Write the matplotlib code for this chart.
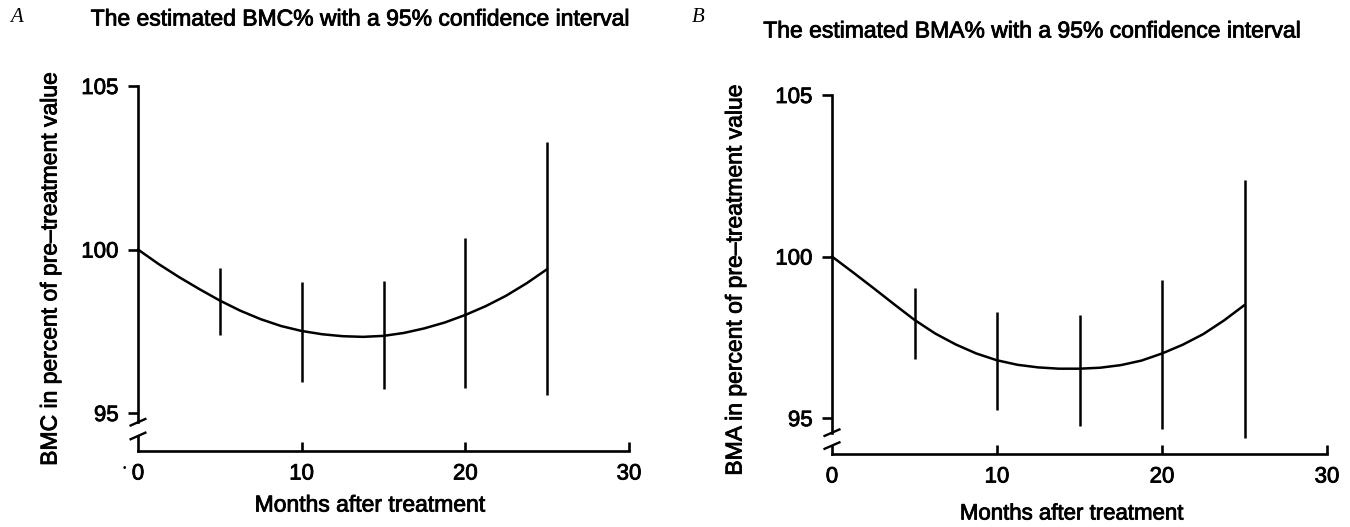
import matplotlib
matplotlib.use("Agg")
import matplotlib.pyplot as plt
import matplotlib.patheffects as pe

plt.rcParams['font.family'] = ['Liberation Sans', 'DejaVu Sans']

# months at which the fitted curves and the confidence intervals are read
months_curve = [0, 1.25, 2.5, 3.75, 5, 6.25, 7.5, 8.75, 10, 11.25, 12.5,
                13.75, 15, 16.25, 17.5, 18.75, 20, 21.25, 22.5, 23.75, 25]
months_ci = [5, 10, 15, 20, 25]

# panel A: BMC %
bmc_curve = [100.0, 99.56, 99.16, 98.79, 98.44, 98.13, 97.87, 97.66, 97.51,
             97.41, 97.35, 97.33, 97.36, 97.45, 97.59, 97.77, 98.0, 98.27,
             98.59, 98.97, 99.4]
bmc_lo = [97.4, 95.95, 95.75, 95.78, 95.54]
bmc_hi = [99.43, 99.0, 99.03, 100.35, 103.28]

# panel B: BMA %
bma_curve = [100.0, 99.52, 99.03, 98.53, 98.04, 97.62, 97.28, 97.0, 96.79,
             96.65, 96.57, 96.53, 96.53, 96.56, 96.64, 96.78, 97.0, 97.27,
             97.6, 98.02, 98.5]
bma_lo = [96.84, 95.26, 94.77, 94.65, 94.40]
bma_hi = [99.02, 98.27, 98.18, 99.26, 102.38]

yticks = [95, 100, 105]
xticks = [0, 10, 20, 30]

W, H = 1350, 527
fig = plt.figure(figsize=(13.5, 5.27), dpi=100)
bold = [pe.withStroke(linewidth=0.6, foreground='black')]


def panel(rect, curve, lo, hi, ymin, brk_hi, brk_lo):
    ax = fig.add_axes(rect)
    ax.set_xlim(0, 30)
    ax.set_ylim(ymin, 105)
    ax.plot(months_curve, curve, color='black', lw=1.8, clip_on=False,
            solid_capstyle='round', solid_joinstyle='round')
    ax.vlines(months_ci, lo, hi, color='black', lw=1.8, clip_on=False)

    for s in ['top', 'right']:
        ax.spines[s].set_visible(False)
    ax.spines['left'].set_linewidth(1.9)
    ax.spines['bottom'].set_linewidth(1.9)
    ax.spines['left'].set_bounds(brk_hi, 105)
    ax.spines['bottom'].set_bounds(0, 30)
    # lower piece of the broken y axis and the two break strokes
    ax.plot([0, 0], [ymin, brk_lo], color='black', lw=1.9, clip_on=False)
    for yb in [brk_lo, brk_hi]:
        ax.plot([-0.45, 0.45], [yb - 0.1, yb + 0.1], color='black', lw=1.7,
                clip_on=False)

    ax.set_yticks(yticks)
    ax.set_yticklabels([str(v) for v in yticks], fontsize=16, path_effects=bold)
    ax.tick_params(axis='y', direction='out', length=7, width=1.9, pad=7)
    ax.set_xticks(xticks)
    ax.set_xticklabels([str(v) for v in xticks], fontsize=16, path_effects=bold)
    ax.tick_params(axis='x', direction='in', length=6.5, width=1.9, pad=9)
    ax.xaxis.get_major_ticks()[0].tick1line.set_visible(False)
    return ax


axA = panel([138 / W, 1 - 451 / H, 491 / W, 365 / H], bmc_curve, bmc_lo, bmc_hi,
            93.84, 94.72, 94.3)
axB = panel([832 / W, 1 - 454 / H, 495 / W, 359 / H], bma_curve, bma_lo, bma_hi,
            93.89, 94.55, 94.15)

fig.text(10 / W, 1 - 18 / H, 'A', family='Liberation Serif', style='italic',
         fontsize=15, va='center', ha='left')
fig.text(692 / W, 1 - 18 / H, 'B', family='Liberation Serif', style='italic',
         fontsize=15, va='center', ha='left')
fig.text(360 / W, 1 - 19 / H, 'The estimated BMC% with a 95% confidence interval',
         fontsize=16.5, ha='center', va='center', path_effects=bold)
fig.text(1032 / W, 1 - 31 / H, 'The estimated BMA% with a 95% confidence interval',
         fontsize=16.5, ha='center', va='center', path_effects=bold)

fig.text(50 / W, 1 - 269 / H, 'BMC in percent of pre\u2013treatment value',
         fontsize=16.5, rotation=90, ha='center', va='center', path_effects=bold)
fig.text(735 / W, 1 - 280 / H, 'BMA in percent of pre\u2013treatment value',
         fontsize=16.5, rotation=90, ha='center', va='center', path_effects=bold)

fig.text(370 / W, 1 - 505 / H, 'Months after treatment', fontsize=16.5,
         ha='center', va='center', path_effects=bold)
fig.text(1072 / W, 1 - 514 / H, 'Months after treatment', fontsize=16,
         ha='center', va='center', path_effects=bold)

# small speck left of the first tick label in panel A
fig.text(124 / W, 1 - 468 / H, '\u2022', fontsize=7, ha='center', va='center')

fig.savefig('out.png', dpi=100)
